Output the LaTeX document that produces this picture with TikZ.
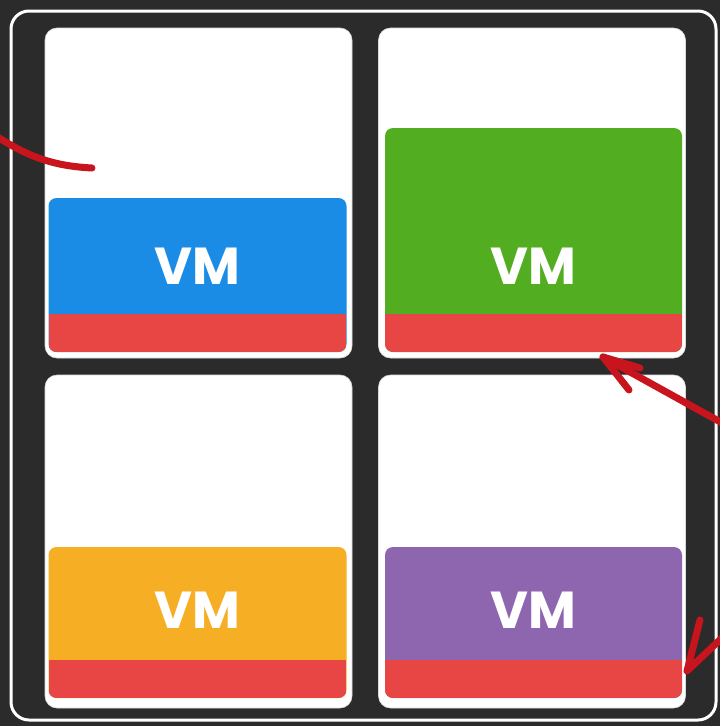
\documentclass[tikz,border=0pt]{standalone}
\usepackage{fontspec}
\newfontfamily\vmfont{Poppins}
\definecolor{bgdark}{HTML}{2B2B2B}
\definecolor{vmred}{HTML}{E84545}
\definecolor{vmblue}{HTML}{1A8CE6}
\definecolor{vmgreen}{HTML}{52AE20}
\definecolor{vmyellow}{HTML}{F6AE24}
\definecolor{vmpurple}{HTML}{8E66B0}
\definecolor{pen}{HTML}{C8141C}
\begin{document}
\begin{tikzpicture}[x=1pt,y=-1pt,
  cell/.style={draw=white!85!black,line width=0.6pt,fill=white,rounded corners=12pt,minimum width=307pt,minimum height=330pt,inner sep=0pt},
  vmbox/.style={fill=#1,rounded corners=8pt,minimum width=298pt,inner sep=0pt,
    path picture={\fill[vmred,sharp corners] ([yshift=38pt]path picture bounding box.south west) rectangle (path picture bounding box.south east);}},
  vmtext/.style={text=white,font=\vmfont\bfseries\fontsize{52}{52}\selectfont,inner sep=0pt},
  penline/.style={draw=pen,line width=7pt,line cap=round,line join=round}
]
\useasboundingbox (0,0) rectangle (720,726);
\fill[bgdark] (0,0) rectangle (720,726);
\draw[white,line width=3pt,rounded corners=18pt] (11,11) rectangle (716,720);

\node[cell,minimum height=330pt] (c1) at (198.5,193) {};
\node[cell,minimum height=330pt] (c2) at (532,193) {};
\node[cell,minimum height=333pt] (c3) at (198.5,541.5) {};
\node[cell,minimum height=333pt] (c4) at (532,541.5) {};

\node[vmbox=vmblue,minimum height=154pt] (v1) at (197.5,275) {};
\node[vmbox=vmgreen,minimum height=224pt,minimum width=297pt] (v2) at (533.5,240) {};
\node[vmbox=vmyellow,minimum height=151pt] (v3) at (197.5,622.5) {};
\node[vmbox=vmpurple,minimum height=151pt,minimum width=297pt] (v4) at (533.5,622.5) {};

\node[vmtext] (t1) at ([yshift=86pt]v1.south) {VM};
\node[vmtext] (t2) at ([yshift=86pt]v2.south) {VM};
\node[vmtext] (t3) at ([yshift=88pt]v3.south) {VM};
\node[vmtext] (t4) at ([yshift=88pt]v4.south) {VM};

% hand-drawn pen marks
\coordinate (l0) at (-4,136);
\coordinate (l1) at (92,168);
\draw[penline] (l0) .. controls (30,158) and (55,166) .. (l1);

\coordinate (r0) at (724,424);
\coordinate (r1) at (603,357);
\coordinate (rb1) at (629,390);
\coordinate (rb2) at (640,368);
\draw[penline] (r0) -- (r1);
\draw[penline] (rb1) -- (r1) -- (rb2);

\coordinate (s0) at (724,636);
\coordinate (s1) at (687,671);
\coordinate (sb1) at (700,620);
\draw[penline] (s0) -- (s1) -- (sb1);
\end{tikzpicture}
\end{document}
